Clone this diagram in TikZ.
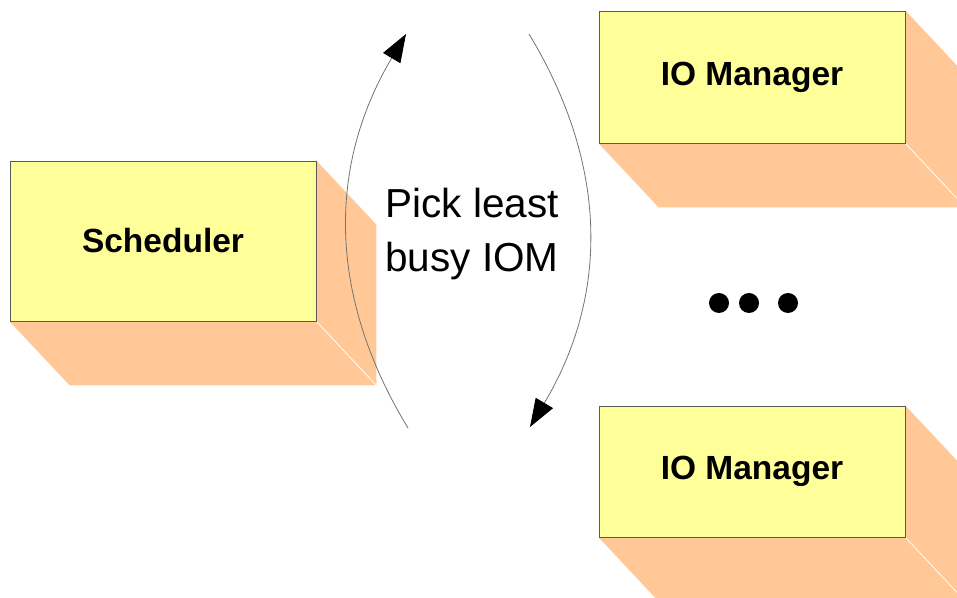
\documentclass[tikz,border=0pt]{standalone}
\usepackage{fontspec}
\setmainfont{Liberation Sans}
\usetikzlibrary{arrows.meta,backgrounds}
\definecolor{boxfill}{HTML}{FFFF99}
\definecolor{sidefill}{HTML}{FFC896}
\tikzset{
  box/.style={draw=black!65, fill=boxfill, line width=0.8pt, minimum width=306pt,
    inner sep=0pt, font=\fontsize{33.5}{40}\selectfont\bfseries},
  pick/.style={draw=black!55, line width=0.8pt,
    -{Triangle[length=28pt,width=20pt,color=black]}},
  dot/.style={circle, fill=black, minimum size=20pt, inner sep=0pt},
}
\begin{document}
\begin{tikzpicture}[x=1pt,y=1pt]
\path[use as bounding box] (0,0) rectangle (957,597);

\node[box, minimum height=160pt] (sched) at (163,356) {Scheduler};
\node[box, minimum height=132pt] (iomtop) at (752,520) {IO Manager};
\node[box, minimum height=131pt] (iombot) at (752,125.5) {IO Manager};

% box sides
\begin{scope}[on background layer]
  \clip (0,0) rectangle (957,597);
  \foreach \b in {sched,iomtop,iombot}{
    \fill[sidefill] (\b.north east) -- ++(60,-64)
      -- ([shift={(60,-64)}]\b.south east)
      -- ([shift={(60,-64)}]\b.south west)
      -- (\b.south west) -- cycle;
    \draw[white, line width=0.8pt] (\b.south east) -- ++(60,-64);
  }
\end{scope}

\node[font=\fontsize{40.5}{54}\selectfont, align=center] (label) at (472,363) {Pick least\\busy IOM};

\coordinate (lb) at (408,169);
\coordinate (lt) at (406,563);
\coordinate (rt) at (529,563);
\coordinate (rb) at (530,170);
\draw[pick] (lb) to[bend left=31] (lt);
\draw[pick] (rt) to[bend left=31] (rb);

\foreach \x [count=\i] in {719,749,788}
  \node[dot] (dot\i) at (\x,294) {};
\end{tikzpicture}
\end{document}
